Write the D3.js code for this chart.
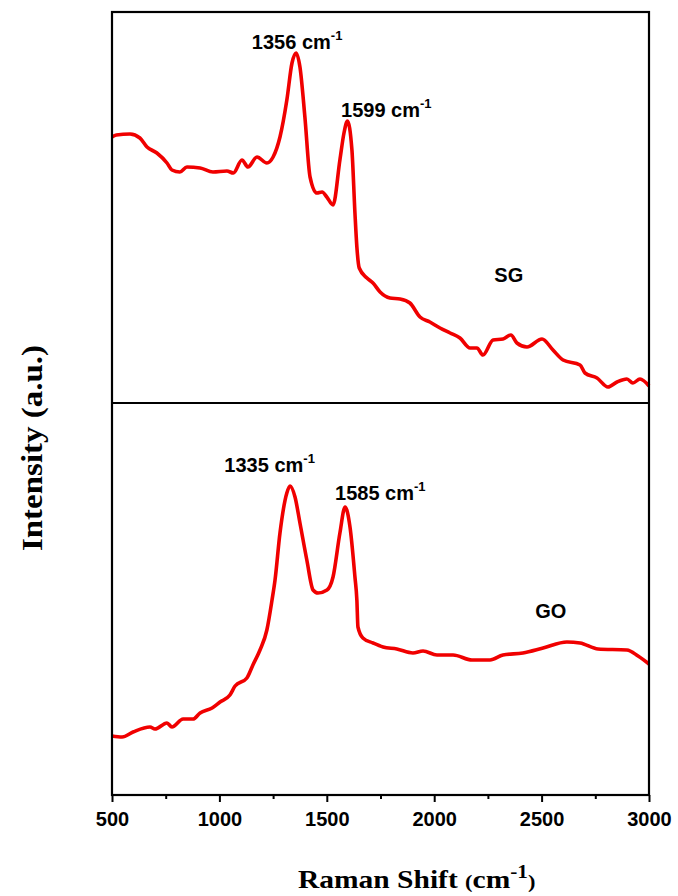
<!DOCTYPE html>
<html>
<head>
<meta charset="utf-8">
<script src="https://cdn.jsdelivr.net/npm/d3@7"></script>
<style>
  body { margin: 0; background: #fff; }
  .tick-lbl { font-family: "Liberation Sans", Arial, sans-serif; font-weight: bold; font-size: 20px; }
  .ann { font-family: "Liberation Sans", Arial, sans-serif; font-weight: bold; font-size: 20px; }
  .title { font-family: "Liberation Serif", "Times New Roman", serif; font-weight: bold; }
</style>
</head>
<body>
<div id="chart"></div>
<script>
var width = 678,
    height = 896,
    box = {left: 112, right: 649, top: 12, mid: 403, bottom: 795},
    lineColor = "#f00000",
    lineWidth = 3.6;

// SG spectrum (Raman shift, intensity a.u.)
var sgShift = [500, 520, 584, 630, 663, 709, 756, 779, 816, 849, 910, 970, 1035, 1065, 1105, 1133,
    1175, 1221, 1250, 1282, 1314, 1338, 1357, 1375, 1398, 1422, 1454, 1478, 1500, 1529, 1561, 1580,
    1596, 1617, 1631, 1640, 1651, 1687, 1715, 1748, 1794, 1841, 1887, 1934, 1980, 2027, 2074, 2120,
    2167, 2199, 2227, 2274, 2320, 2357, 2385, 2432, 2502, 2553, 2600, 2679, 2702, 2758, 2809, 2851,
    2897, 2925, 2958, 3000];
var sgIntensity = [266, 268, 269, 265, 256, 250, 240, 233, 231, 236, 235, 231, 232, 230, 243, 236,
    246, 240, 246, 266, 303, 340, 350, 336, 286, 226, 210, 211, 206, 198, 243, 270,
    282, 253, 190, 156, 135, 125, 120, 111, 105, 104, 100, 86, 81, 75, 70, 65,
    55, 55, 48, 63, 64, 68, 60, 56, 64, 53, 43, 38, 30, 25, 16, 21,
    24, 20, 24, 17];

// GO spectrum
var goShift = [500, 547, 598, 677, 700, 756, 779, 831, 877, 910, 966, 1003, 1049, 1073, 1128, 1156,
    1189, 1221, 1245, 1259, 1282, 1314, 1329, 1352, 1375, 1407, 1436, 1459, 1501, 1529, 1561, 1585,
    1608, 1631, 1640, 1645, 1668, 1715, 1762, 1826, 1901, 1948, 2013, 2088, 2176, 2260, 2320, 2413,
    2507, 2618, 2679, 2763, 2897, 2949, 3000];
var goIntensity = [59, 58, 63, 68, 66, 72, 68, 76, 76, 82, 87, 93, 100, 109, 117, 130,
    145, 165, 195, 215, 262, 302, 309, 298, 272, 235, 205, 202, 205, 218, 262, 288,
    268, 218, 195, 168, 157, 152, 148, 146, 142, 144, 140, 140, 135, 135, 140, 142,
    147, 153, 152, 146, 145, 139, 131];

var xTicks = [500, 1000, 1500, 2000, 2500, 3000],
    xMinorTicks = [750, 1250, 1750, 2250, 2750];

var peakLabels = [
    {panel: "SG", shift: 1356, text: "1356 cm", dx: -44, dy: -4},
    {panel: "SG", shift: 1599, text: "1599 cm", dx: -7, dy: -4},
    {panel: "GO", shift: 1335, text: "1335 cm", dx: -67, dy: -14},
    {panel: "GO", shift: 1585, text: "1585 cm", dx: -10, dy: -7}
];

var svg = d3.select("#chart").append("svg")
    .attr("width", width)
    .attr("height", height);

var x = d3.scaleLinear().domain([500, 3000]).range([box.left, box.right]);
var yTop = d3.scaleLinear().domain([0, 391]).range([box.mid, box.top]);
var yBot = d3.scaleLinear().domain([0, 392]).range([box.bottom, box.mid]);

var panels = {
    SG: {shift: sgShift, val: sgIntensity, y: yTop, labelX: 2280, labelY: 282},
    GO: {shift: goShift, val: goIntensity, y: yBot, labelX: 2470, labelY: 618}
};

// spectra
Object.keys(panels).forEach(function(k) {
    var p = panels[k];
    var pts = p.shift.map(function(s, i) { return [s, p.val[i]]; });
    var line = d3.line()
        .x(function(d) { return x(d[0]); })
        .y(function(d) { return p.y(d[1]); })
        .curve(d3.curveMonotoneX);
    svg.append("path")
        .datum(pts)
        .attr("d", line)
        .attr("fill", "none")
        .attr("stroke", lineColor)
        .attr("stroke-width", lineWidth)
        .attr("stroke-linejoin", "round");
    svg.append("text")
        .attr("class", "ann")
        .attr("x", x(p.labelX))
        .attr("y", p.labelY)
        .text(k);
});

// peak labels
peakLabels.forEach(function(d) {
    var p = panels[d.panel];
    var i = p.shift.indexOf(d3.least(p.shift, function(s) { return Math.abs(s - d.shift); }));
    var t = svg.append("text")
        .attr("class", "ann")
        .attr("x", x(d.shift) + d.dx)
        .attr("y", p.y(p.val[i]) + d.dy);
    t.append("tspan").text(d.text);
    t.append("tspan").attr("dy", -9).attr("font-size", 13).text("-1");
});

// frame
svg.append("rect")
    .attr("x", box.left).attr("y", box.top)
    .attr("width", box.right - box.left).attr("height", box.bottom - box.top)
    .attr("fill", "none").attr("stroke", "#000").attr("stroke-width", 2.2);
svg.append("line")
    .attr("x1", box.left).attr("x2", box.right)
    .attr("y1", box.mid).attr("y2", box.mid)
    .attr("stroke", "#000").attr("stroke-width", 2.2);

// x axis
var xAxis = svg.append("g")
    .attr("transform", "translate(0," + box.bottom + ")")
    .call(d3.axisBottom(x).tickValues(xTicks).tickSize(7).tickSizeOuter(0).tickFormat(d3.format("d")));
xAxis.select(".domain").remove();
xAxis.selectAll(".tick line").attr("stroke-width", 2);
xAxis.selectAll(".tick text").attr("class", "tick-lbl").attr("fill", "#000").attr("dy", "1.05em");
svg.append("g")
    .attr("transform", "translate(0," + box.bottom + ")")
    .call(d3.axisBottom(x).tickValues(xMinorTicks).tickSize(4).tickFormat(""))
    .call(function(g) { g.select(".domain").remove(); })
    .selectAll(".tick line").attr("stroke-width", 2);

// axis titles
var xt = svg.append("text")
    .attr("class", "title")
    .attr("transform", "translate(298,888) scale(1.18,1)")
    .attr("font-size", 25);
xt.append("tspan").text("Raman Shift ");
xt.append("tspan").attr("font-size", 19).text("(");
xt.append("tspan").text("cm");
xt.append("tspan").attr("dy", -10).attr("font-size", 18).text("-1");
xt.append("tspan").attr("dy", 10).attr("font-size", 19).text(")");

svg.append("text")
    .attr("class", "title")
    .attr("transform", "translate(42,448) rotate(-90) scale(1.1,1)")
    .attr("text-anchor", "middle")
    .attr("font-size", 30)
    .text("Intensity (a.u.)");
</script>
</body>
</html>
